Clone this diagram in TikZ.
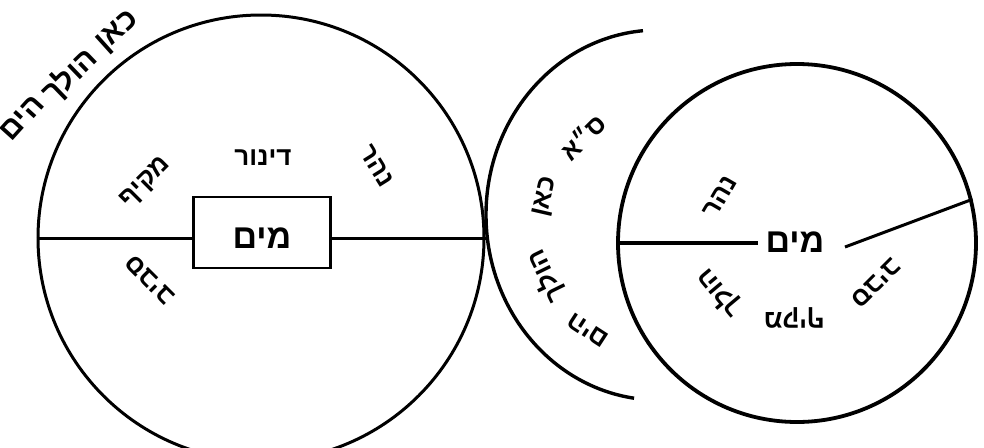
\documentclass[tikz,border=0pt]{standalone}
\usepackage{fontspec}
\newfontfamily\heb[Script=Hebrew]{Liberation Sans}
\TeXXeTstate=1
\newcommand{\hb}[1]{\beginR#1\endR}
\begin{document}
\begin{tikzpicture}[x=1pt,y=-1pt,
  lbl/.style={inner sep=0pt, font=\heb\bfseries\fontsize{26}{28}\selectfont},
  big/.style={inner sep=0pt, font=\heb\bfseries\fontsize{34}{36}\selectfont},
  ttl/.style={inner sep=0pt, font=\heb\bfseries\fontsize{30}{32}\selectfont},
  ring/.style={circle, draw, inner sep=0pt}]
\useasboundingbox (0,0) rectangle (984,447);
% left circle
\node[ring, line width=3pt, minimum size=446pt] (L) at (261,238) {};
\node[draw, line width=2.8pt, minimum width=137pt, minimum height=71pt, inner sep=0pt] (box) at (262,232.5) {};
\node[big] (mim1) at (262,238) {\hb{מים}};
\draw[line width=3pt] (L.west) -- (box.west |- L.west);
\draw[line width=3pt] (box.east |- L.east) -- (L.east);
\node[lbl] (dinur) at (263,158) {\hb{דינור}};
\node[lbl, rotate=45] (makif1) at (146,183) {\hb{מקיף}};
\node[lbl, rotate=-58] (nahar1) at (377,166) {\hb{נהר}};
\node[lbl, rotate=135] (saviv1) at (150,280) {\hb{סביב}};
% text outside upper left
\node[ttl, rotate=42] (t1) at (118,32) {\hb{כאן}};
\node[ttl, rotate=44] (t2) at (70,76) {\hb{הולך}};
\node[ttl, rotate=48] (t3) at (22,118) {\hb{הים}};
% crescent
\coordinate (cc) at (658,215);
\draw[line width=3.4pt] (cc) ++(265:172 and 185) arc[start angle=265, end angle=98, x radius=172, y radius=185];
\node[lbl, rotate=45] (sa) at (583,137) {\hb{ס״א}};
\node[lbl, rotate=77] (kan) at (546,197) {\hb{כאן}};
\node[lbl, rotate=116] (holech) at (546,276) {\hb{הולך}};
\node[lbl, rotate=147] (hayam) at (588,330) {\hb{הים}};
% right circle
\node[ring, line width=3.8pt, minimum size=358pt] (R) at (797,243) {};
\node[big] (mim2) at (795,242) {\hb{מים}};
\draw[line width=3.4pt] (R.west) -- (758,243);
\coordinate (rs) at (845,247);
\draw[line width=3pt] (rs) -- (R.14);
\node[lbl, rotate=60] (nahar2) at (720,197) {\hb{נהר}};
\node[lbl, rotate=130] (holech2) at (720,293) {\hb{הולך}};
\node[lbl, rotate=180] (makif2) at (794,318) {\hb{מקיף}};
\node[lbl, rotate=-135] (saviv2) at (876,283) {\hb{סביב}};
\end{tikzpicture}
\end{document}
